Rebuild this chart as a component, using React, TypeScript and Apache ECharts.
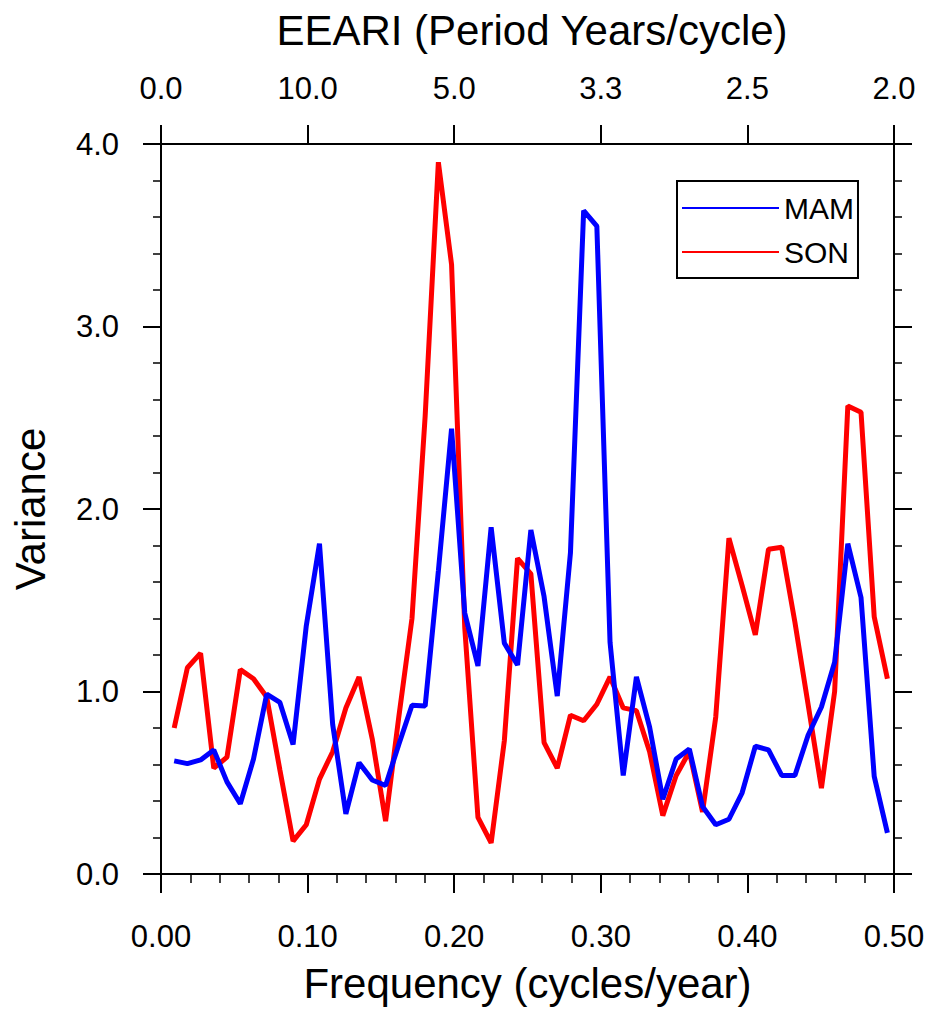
import React, { useEffect, useRef } from "react";
import * as echarts from "echarts";

// Frequencies (cycles/year) of the spectral estimates
const frequency = [
  0.009, 0.018, 0.027, 0.036, 0.045, 0.0541, 0.0631, 0.0721, 0.0811, 0.0901,
  0.0991, 0.1081, 0.1171, 0.1261, 0.1351, 0.1441, 0.1532, 0.1622, 0.1712, 0.1802,
  0.1892, 0.1982, 0.2072, 0.2162, 0.2252, 0.2342, 0.2432, 0.2523, 0.2613, 0.2703,
  0.2793, 0.2883, 0.2973, 0.3063, 0.3153, 0.3243, 0.3333, 0.3423, 0.3514, 0.3604,
  0.3694, 0.3784, 0.3874, 0.3964, 0.4054, 0.4144, 0.4234, 0.4324, 0.4414, 0.4505,
  0.4595, 0.4685, 0.4775, 0.4865, 0.4955,
];

// MAM variance (blue)
const mam = [
  0.62, 0.605, 0.625, 0.68, 0.505, 0.385, 0.63, 0.985, 0.94, 0.71,
  1.36, 1.81, 0.82, 0.33, 0.61, 0.515, 0.485, 0.71, 0.925, 0.92,
  1.66, 2.44, 1.43, 1.14, 1.9, 1.265, 1.145, 1.885, 1.52, 0.975,
  1.76, 3.635, 3.55, 1.27, 0.54, 1.08, 0.805, 0.41, 0.63, 0.685,
  0.37, 0.27, 0.3, 0.445, 0.7, 0.68, 0.54, 0.54, 0.76, 0.915,
  1.16, 1.81, 1.515, 0.535, 0.225,
];

// SON variance (red)
const son = [
  0.8, 1.13, 1.21, 0.58, 0.64, 1.12, 1.07, 0.97, 0.57, 0.18,
  0.27, 0.52, 0.67, 0.91, 1.08, 0.74, 0.29, 0.86, 1.4, 2.51,
  3.9, 3.34, 1.35, 0.31, 0.17, 0.73, 1.73, 1.645, 0.72, 0.58,
  0.87, 0.84, 0.93, 1.08, 0.91, 0.895, 0.67, 0.32, 0.54, 0.67,
  0.34, 0.86, 1.84, 1.58, 1.31, 1.78, 1.79, 1.38, 0.93, 0.47,
  1.0, 2.565, 2.53, 1.41, 1.07,
];

const freqTickLabels = ["0.00", "0.10", "0.20", "0.30", "0.40", "0.50"];
const periodTickLabels = ["0.0", "10.0", "5.0", "3.3", "2.5", "2.0"];
const varianceTickLabels = ["0.0", "1.0", "2.0", "3.0", "4.0"];

export default function App() {
  const ref = useRef<HTMLDivElement>(null);

  useEffect(() => {
    document.body.style.margin = "0";
    const chart = echarts.init(ref.current!, null, { renderer: "svg" });
    const font = "'Liberation Sans', Arial, Helvetica, sans-serif";
    const axisLine = { show: true, onZero: false, lineStyle: { color: "#000", width: 2 } };
    const majorTick = { show: true, inside: false, length: 19, lineStyle: { color: "#000", width: 2 } };
    const minorTick = { show: true, splitNumber: 5, length: 9, lineStyle: { color: "#000", width: 1.5 } };
    const labelStyle = { fontFamily: font, fontSize: 31, color: "#000" };
    const nameStyle = { fontFamily: font, fontSize: 42, color: "#000" };

    chart.setOption({
      animation: false,
      backgroundColor: "#fff",
      title: {
        text: "EEARI (Period Years/cycle)",
        left: 527,
        top: 4,
        textAlign: "center",
        textStyle: { fontFamily: font, fontSize: 42, fontWeight: "normal", color: "#000" },
      },
      grid: { left: 161, top: 144, width: 733, height: 734 },
      legend: {
        data: ["MAM", "SON"],
        orient: "vertical",
        left: 677,
        top: 181,
        padding: [12, 4, 11, 5],
        itemGap: 14,
        itemWidth: 97,
        itemHeight: 2,
        icon: "rect",
        borderColor: "#000",
        borderWidth: 2,
        textStyle: { fontFamily: font, fontSize: 30, color: "#000" },
      },
      xAxis: [
        {
          type: "value",
          position: "bottom",
          min: 0,
          max: 0.5,
          interval: 0.1,
          name: "Frequency (cycles/year)",
          nameLocation: "middle",
          nameGap: 88,
          nameTextStyle: nameStyle,
          axisLine,
          axisTick: majorTick,
          minorTick,
          splitLine: { show: false },
          minorSplitLine: { show: false },
          axisLabel: {
            ...labelStyle,
            margin: 47,
            formatter: (v: number) => freqTickLabels[Math.round(v * 10)],
          },
        },
        {
          type: "value",
          position: "top",
          min: 0,
          max: 0.5,
          interval: 0.1,
          axisLine,
          axisTick: majorTick,
          minorTick: { show: false },
          splitLine: { show: false },
          axisLabel: {
            ...labelStyle,
            margin: 40,
            formatter: (v: number) => periodTickLabels[Math.round(v * 10)],
          },
        },
      ],
      yAxis: [
        {
          type: "value",
          position: "left",
          min: 0,
          max: 4,
          interval: 1,
          name: "Variance",
          nameLocation: "middle",
          nameGap: 110,
          nameTextStyle: nameStyle,
          axisLine,
          axisTick: { ...majorTick, length: 18 },
          minorTick: { ...minorTick, length: 8 },
          splitLine: { show: false },
          minorSplitLine: { show: false },
          axisLabel: {
            ...labelStyle,
            margin: 42,
            formatter: (v: number) => varianceTickLabels[Math.round(v)],
          },
        },
        {
          type: "value",
          position: "right",
          min: 0,
          max: 4,
          interval: 1,
          axisLine,
          axisTick: { ...majorTick, length: 18 },
          minorTick: { ...minorTick, length: 8 },
          splitLine: { show: false },
          axisLabel: { show: false },
        },
      ],
      series: [
        {
          name: "SON",
          type: "line",
          xAxisIndex: 0,
          yAxisIndex: 0,
          data: frequency.map((f, i) => [f, son[i]]),
          showSymbol: false,
          symbol: "none",
          lineStyle: { color: "#ff0000", width: 5 },
          itemStyle: { color: "#ff0000" },
          z: 2,
        },
        {
          name: "MAM",
          type: "line",
          xAxisIndex: 0,
          yAxisIndex: 0,
          data: frequency.map((f, i) => [f, mam[i]]),
          showSymbol: false,
          symbol: "none",
          lineStyle: { color: "#0000ff", width: 5 },
          itemStyle: { color: "#0000ff" },
          z: 3,
        },
      ],
    });
    return () => chart.dispose();
  }, []);

  return <div ref={ref} style={{ width: 931, height: 1009, overflow: "hidden" }} />;
}
